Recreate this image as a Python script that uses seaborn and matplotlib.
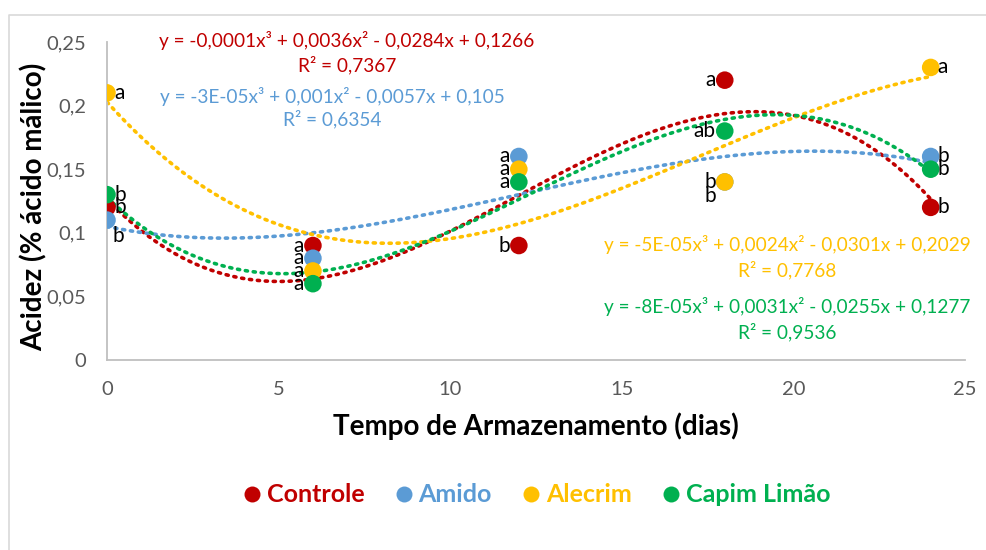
import matplotlib
matplotlib.use("Agg")
import matplotlib.pyplot as plt
from matplotlib.lines import Line2D
import numpy as np
import pandas as pd
import seaborn as sns

# Storage time (days) and titratable acidity for each coating
dias = [0, 6, 12, 18, 24]
controle = [0.12, 0.09, 0.09, 0.22, 0.12]
amido = [0.11, 0.08, 0.16, 0.14, 0.16]
alecrim = [0.21, 0.07, 0.15, 0.14, 0.23]
capim_limao = [0.13, 0.06, 0.14, 0.18, 0.15]

series_names = ["Controle", "Amido", "Alecrim", "Capim Limão"]
series_values = [controle, amido, alecrim, capim_limao]
series_colors = ["#C00000", "#5B9BD5", "#FFC000", "#00B050"]

# Significance letters per series and day
letras = {
    "Controle": ["b", "a", "b", "a", "b"],
    "Amido": ["b", "a", "a", "b", "b"],
    "Alecrim": ["a", "a", "a", "b", "a"],
    "Capim Limão": ["b", "a", "a", "ab", "b"],
}

equacoes = [
    "y = -0,0001x³ + 0,0036x² - 0,0284x + 0,1266",
    "y = -3E-05x³ + 0,001x² - 0,0057x + 0,105",
    "y = -5E-05x³ + 0,0024x² - 0,0301x + 0,2029",
    "y = -8E-05x³ + 0,0031x² - 0,0255x + 0,1277",
]
r2 = ["R² = 0,7367", "R² = 0,6354", "R² = 0,7768", "R² = 0,9536"]

yticks = [0, 0.05, 0.1, 0.15, 0.2, 0.25]
ytick_labels = ["0", "0,05", "0,1", "0,15", "0,2", "0,25"]
xticks = [0, 5, 10, 15, 20, 25]

df = pd.DataFrame({
    "dias": dias * len(series_names),
    "acidez": sum(series_values, []),
    "tratamento": sum([[n] * len(dias) for n in series_names], []),
})

sns.set_style("white")
plt.rcParams["font.family"] = ["Lato", "DejaVu Sans"]

fig = plt.figure(figsize=(9.87, 5.5), dpi=100)
ax = fig.add_axes([107 / 987, 1 - 360 / 550, (965 - 107) / 987, (360 - 42) / 550])

palette = dict(zip(series_names, series_colors))

# Dotted third-order trend lines
for name in series_names:
    sub = df[df["tratamento"] == name]
    sns.regplot(data=sub, x="dias", y="acidez", order=3, ci=None, scatter=False,
                truncate=True, ax=ax,
                line_kws=dict(color=palette[name], lw=2.6, linestyle=(0, (0.6, 1.6)),
                              dash_capstyle="round", zorder=2))

sns.scatterplot(data=df, x="dias", y="acidez", hue="tratamento", palette=palette,
                hue_order=series_names, s=160, edgecolor="none", ax=ax, zorder=3,
                legend=False)

# Letters beside the markers (offsets in points)
px = 0.72
side = {
    "Controle": ["r", "l", "l", "l", "r"],
    "Amido": ["br", "l", "l", "bl", "r"],
    "Alecrim": ["r", "l", "l", "l", "r"],
    "Capim Limão": ["r", "l", "l", "l", "r"],
}
for name, vals in zip(series_names, series_values):
    for xi, yi, lab, sd in zip(dias, vals, letras[name], side[name]):
        if sd == "r":
            off, ha = (7 * px, 0), "left"
        elif sd == "l":
            off, ha = (-9 * px, 0), "right"
        elif sd == "br":
            off, ha = (5 * px, -16 * px), "left"
        else:
            off, ha = (-9 * px, -14 * px), "right"
        ax.annotate(lab, (xi, yi), xytext=off, textcoords="offset points",
                    ha=ha, va="center", fontsize=15, color="black", zorder=4)

# Trend-line equations
eq_pos = [(347, 40, 65), (332, 96, 119), (787, 244, 270), (787, 307, 332)]
for (cx, y1, y2), eq, r, c in zip(eq_pos, equacoes, r2, series_colors):
    fig.text(cx / 987, 1 - y1 / 550, eq, ha="center", va="center", fontsize=13.7, color=c)
    fig.text(cx / 987, 1 - y2 / 550, r, ha="center", va="center", fontsize=13.7, color=c)

ax.set_xlim(0, 25)
ax.set_ylim(0, 0.25)
ax.set_xticks(xticks)
ax.set_xticklabels([str(t) for t in xticks])
ax.set_yticks(yticks)
ax.set_yticklabels(ytick_labels)
ax.tick_params(axis="both", length=0, labelsize=14.5, labelcolor="#595959")
ax.tick_params(axis="x", pad=15)
ax.tick_params(axis="y", pad=15)
for sp in ["top", "right"]:
    ax.spines[sp].set_visible(False)
for sp in ["left", "bottom"]:
    ax.spines[sp].set_color("#BFBFBF")
    ax.spines[sp].set_linewidth(1.3)
ax.patch.set_alpha(0)

ax.set_xlabel("Tempo de Armazenamento (dias)", fontsize=20, fontweight="bold",
              color="black")
ax.set_ylabel("Acidez (% ácido málico)", fontsize=20, fontweight="bold",
              color="black")
ax.xaxis.set_label_coords(0.5, -(412 - 360) / 318)
ax.yaxis.set_label_coords((48 - 107) / 858, (360 - 207) / 318)

handles = [Line2D([], [], marker="o", linestyle="none", markersize=11.5,
                  markerfacecolor=c, markeredgecolor="none") for c in series_colors]
leg = fig.legend(handles, series_names, loc="center", bbox_to_anchor=(536 / 987, 1 - 495 / 550),
                 ncol=4, frameon=False, handlelength=0.8, handletextpad=0.2,
                 columnspacing=1.16, prop=dict(size=18, weight="bold"))
for t, c in zip(leg.get_texts(), series_colors):
    t.set_color(c)

# Outer chart frame
fig.add_artist(Line2D([9 / 987, 9 / 987, 1], [0, 1 - 15 / 550, 1 - 15 / 550],
                      transform=fig.transFigure, color="#D9D9D9", lw=1.2))

fig.savefig("out.png", dpi=100)
